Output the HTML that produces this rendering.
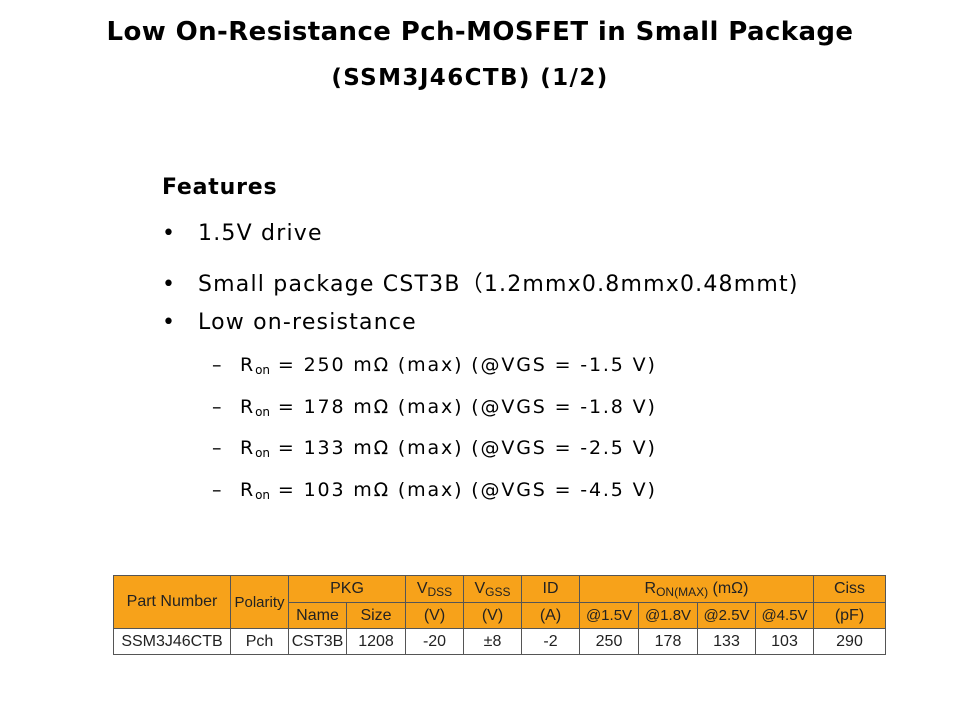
<!DOCTYPE html>
<html><head><meta charset="utf-8"><style>
body{margin:0;width:960px;height:720px;background:#fff;position:relative;overflow:hidden;font-family:"DejaVu Sans","Liberation Sans",sans-serif;color:#000}
.t{position:absolute;left:0;width:960px;text-align:center;font-weight:bold;font-size:26px;letter-spacing:0.4px}
.p{position:absolute;font-size:22px;letter-spacing:1.2px;white-space:nowrap}
.s{position:absolute;font-size:19px;letter-spacing:1.85px;white-space:nowrap}
sub{font-size:12px;vertical-align:-3px;letter-spacing:0}
table{position:absolute;left:113px;top:575px;border-collapse:collapse;font-family:"Liberation Sans",Arial,sans-serif;font-size:16px}
td{border:1px solid #555;text-align:center;padding:0;height:25px;color:#222}
.o td,td.o{background:#f7a21a}
</style></head><body>
<div class="t" style="top:17px">Low On-Resistance Pch-MOSFET in Small Package</div>
<div class="t" style="top:65px;font-size:23px;letter-spacing:1.4px;left:-10px">(SSM3J46CTB) (1/2)</div>
<div class="p" style="left:162px;top:175px;font-weight:bold;letter-spacing:0.8px">Features</div>
<div class="p" style="left:162px;top:221px"><span style="display:inline-block;width:36px">•</span>1.5V drive</div>
<div class="p" style="left:162px;top:266px"><span style="display:inline-block;width:36px">•</span>Small package CST3B（1.2mmx0.8mmx0.48mmt)</div>
<div class="p" style="left:162px;top:310px"><span style="display:inline-block;width:36px">•</span>Low on-resistance</div>
<div class="s" style="left:212px;top:354px"><span style="display:inline-block;width:28px">–</span>R<sub>on</sub> = 250 mΩ (max) (@VGS = -1.5 V)</div>
<div class="s" style="left:212px;top:396px"><span style="display:inline-block;width:28px">–</span>R<sub>on</sub> = 178 mΩ (max) (@VGS = -1.8 V)</div>
<div class="s" style="left:212px;top:437px"><span style="display:inline-block;width:28px">–</span>R<sub>on</sub> = 133 mΩ (max) (@VGS = -2.5 V)</div>
<div class="s" style="left:212px;top:479px"><span style="display:inline-block;width:28px">–</span>R<sub>on</sub> = 103 mΩ (max) (@VGS = -4.5 V)</div>
<table>
<colgroup><col style="width:117px"><col style="width:58px"><col style="width:58px"><col style="width:59px"><col style="width:58px"><col style="width:58px"><col style="width:58px"><col style="width:59px"><col style="width:59px"><col style="width:58px"><col style="width:58px"><col style="width:72px"></colgroup>
<tr class="o" style="height:27px"><td rowspan="2">Part Number</td><td rowspan="2" style="font-size:15px">Polarity</td><td colspan="2">PKG</td><td>V<sub>DSS</sub></td><td>V<sub>GSS</sub></td><td>ID</td><td colspan="4">R<sub>ON(MAX)</sub> (mΩ)</td><td>Ciss</td></tr>
<tr class="o"><td>Name</td><td>Size</td><td>(V)</td><td>(V)</td><td>(A)</td><td style="font-size:15px">@1.5V</td><td style="font-size:15px">@1.8V</td><td style="font-size:15px">@2.5V</td><td style="font-size:15px">@4.5V</td><td>(pF)</td></tr>
<tr><td>SSM3J46CTB</td><td>Pch</td><td>CST3B</td><td>1208</td><td>-20</td><td>±8</td><td>-2</td><td>250</td><td>178</td><td>133</td><td>103</td><td>290</td></tr>
</table>
</body></html>
